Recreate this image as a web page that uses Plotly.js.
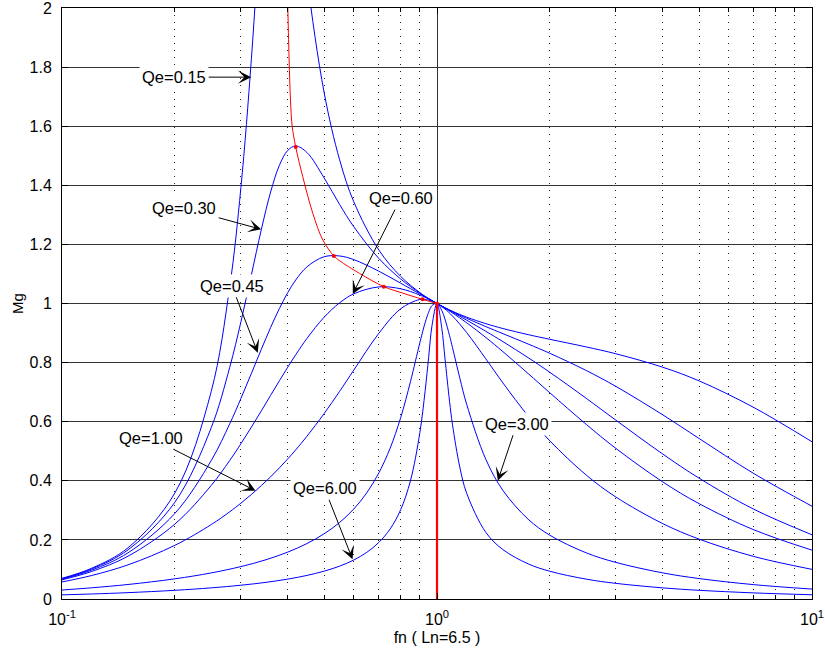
<!DOCTYPE html>
<html>
<head>
<meta charset="utf-8">
<script src="https://cdn.plot.ly/plotly-3.0.1.min.js"></script>
<style>
  html, body { margin: 0; padding: 0; background: #fff; }
  #chart { width: 825px; height: 655px; }
</style>
</head>
<body>
<div id="chart"></div>
<script>
// ---------- data ----------
const fnA = [0.1,0.12,0.15,0.2,0.25,0.28,0.3,0.32,0.34,0.36,0.38,0.4,0.42,0.45,0.5,0.55,0.6,0.7,0.8,0.9,0.95,1,1.05,1.1,1.2,1.35,1.5,1.75,2,2.5,3,4,5,7,10];
const mgQ015 = [0.0699,0.1041,0.1734,0.3588,0.7025,1.0556,1.3926,1.830,2.334,2.746,2.864,2.710,2.455,2.104,1.714,1.486,1.344,1.1807,1.0917,1.0369,1.0167,1,0.9858,0.9736,0.9538,0.9317,0.9152,0.8947,0.8788,0.8530,0.8298,0.7843,0.7381,0.6479,0.532];
const mgQ030 = [0.0688,0.1016,0.1664,0.3275,0.5797,0.7836,0.9379,1.0979,1.2497,1.3772,1.4678,1.5181,1.5331,1.511,1.4251,1.3350,1.2597,1.1522,1.0829,1.0352,1.0164,1,0.9855,0.9725,0.9499,0.9217,0.8978,0.8629,0.8314,0.7733,0.7194,0.6232,0.5431,0.4243,0.3139];
const mgQ045 = [0.0671,0.0978,0.1563,0.2897,0.4684,0.5926,0.6786,0.7637,0.8447,0.9187,0.9832,1.0369,1.0795,1.1241,1.1582,1.1608,1.1485,1.1091,1.0687,1.0324,1.0158,1,0.9850,0.9706,0.9435,0.9058,0.8708,0.8167,0.7670,0.6791,0.6050,0.4905,0.4088,0.3036,0.2173];
const mgQ060 = [0.0648,0.0932,0.1449,0.2536,0.3843,0.4686,0.5255,0.5818,0.6367,0.6891,0.7386,0.7846,0.8265,0.8818,0.9535,1.0023,1.0328,1.0562,1.0498,1.0286,1.0149,1,0.9843,0.9680,0.9347,0.8848,0.8368,0.7629,0.6977,0.5910,0.5095,0.3962,0.3226,0.2341,0.1653];
const mgQ100 = [0.0577,0.0795,0.1156,0.1817,0.2518,0.2950,0.3243,0.3538,0.3836,0.4135,0.4438,0.4742,0.5047,0.5508,0.6275,0.7028,0.7748,0.8994,0.9820,1.0134,1.0114,1,0.9814,0.9576,0.9015,0.8125,0.7308,0.6193,0.5350,0.4194,0.3450,0.2551,0.2026,0.1438,0.1003];

const fnB = [0.1,0.12,0.15,0.2,0.25,0.3,0.35,0.4,0.45,0.5,0.55,0.6,0.65,0.7,0.75,0.8,0.85,0.9,0.93,0.95,0.97,1,1.03,1.05,1.08,1.1,1.15,1.2,1.35,1.5,1.75,2,2.5,3,4,5,7,10];
const mgQ300 = [0.0304,0.0379,0.0491,0.0683,0.0883,0.1097,0.1329,0.1587,0.1876,0.2206,0.2591,0.3047,0.3597,0.4271,0.5105,0.6135,0.7363,0.8671,0.9356,0.9704,0.9930,1,0.9763,0.9472,0.8916,0.8506,0.7486,0.6585,0.4722,0.3669,0.2700,0.2157,0.1562,0.1238,0.0884,0.0692,0.0485,0.0336];
const mgQ600 = [0.0140,0.0170,0.0215,0.0294,0.0377,0.0466,0.0564,0.0673,0.0798,0.0942,0.1112,0.1320,0.1579,0.1916,0.2371,0.3021,0.4011,0.5628,0.7057,0.8182,0.9259,1,0.9157,0.8151,0.6695,0.5896,0.4468,0.3577,0.2253,0.1669,0.1190,0.0938,0.0672,0.0529,0.0377,0.0294,0.0206,0.0143];

// peak locus (red)
const locusFn = [0.3985,0.400,0.4033,0.4067,0.4107,0.4199,0.4386,0.4665,0.4961,0.5307,0.5495,0.6214,0.7212,0.811,0.9155,1.0];
const locusMg = [2.05,2.0,1.824,1.689,1.604,1.530,1.429,1.305,1.215,1.161,1.145,1.102,1.057,1.035,1.014,1.0];
const peakFn = [0.4199,0.5307,0.7212,0.9155,1.0];
const peakMg = [1.530,1.161,1.057,1.014,1.0];
const resFn = [1,1];
const resMg = [0,1];

// labels
const labels = ['Qe=0.15','Qe=0.30','Qe=0.45','Qe=0.60','Qe=1.00','Qe=3.00','Qe=6.00'];
const tipFn = [0.3195,0.3398,0.3327,0.5963,0.3281,1.453,0.5954];
const tipMg = [1.766,1.251,0.8335,1.032,0.3665,0.4003,0.1343];

const xMajor = [0.1,1,10];
const xMajorText = ['10<sup>-1</sup>','10<sup>0</sup>','10<sup>1</sup>'];
const xMinor = [0.2,0.3,0.4,0.5,0.6,0.7,0.8,0.9,2,3,4,5,6,7,8,9];
const yTicks = [0,0.2,0.4,0.6,0.8,1,1.2,1.4,1.6,1.8,2];
const yTickText = ['0','0.2','0.4','0.6','0.8','1','1.2','1.4','1.6','1.8','2'];

// ---------- styling ----------
const FONT = 'Liberation Sans, Arial, Helvetica, sans-serif';
const blue = {color:'#0000ff', width:1, shape:'spline', smoothing:1};
function curve(x, y){ return {x:x, y:y, type:'scatter', mode:'lines', line:blue, hoverinfo:'skip', showlegend:false}; }

const traces = [
  curve(fnA, mgQ015), curve(fnA, mgQ030), curve(fnA, mgQ045), curve(fnA, mgQ060), curve(fnA, mgQ100),
  curve(fnB, mgQ300), curve(fnB, mgQ600),
  {x:locusFn, y:locusMg, type:'scatter', mode:'lines', line:{color:'#ff0000', width:1, shape:'spline', smoothing:1}, hoverinfo:'skip', showlegend:false},
  {x:peakFn, y:peakMg, type:'scatter', mode:'markers', marker:{color:'#ff0000', size:4}, hoverinfo:'skip', showlegend:false},
  {x:resFn, y:resMg, type:'scatter', mode:'lines', line:{color:'#ff0000', width:2.2}, hoverinfo:'skip', showlegend:false}
];

const offsets = [[-77,0],[-77,-21],[-26,-67],[48,-96],[-105,-53],[19,-57],[-28,-71]];
const annotations = labels.map((t,i) => ({
  x: Math.log10(tipFn[i]), y: tipMg[i], xref:'x', yref:'y',
  ax: offsets[i][0], ay: offsets[i][1], axref:'pixel', ayref:'pixel',
  text: t, showarrow:true, arrowhead:3, arrowsize:2.2, arrowwidth:1, arrowcolor:'#000',
  bgcolor:'#ffffff', borderpad:2, font:{family:FONT, size:16.5, color:'#000'}
}));

const layout = {
  width:825, height:655,
  margin:{l:62, r:13, t:8, b:56},
  paper_bgcolor:'#fff', plot_bgcolor:'#fff',
  font:{family:FONT, color:'#000'},
  showlegend:false,
  xaxis:{
    type:'log', range:[-1,1],
    tickmode:'array', tickvals:xMajor, ticktext:xMajorText,
    ticks:'inside', ticklen:6, tickcolor:'#000', ticklabelstandoff:6, ticklabeloverflow:'allow',
    showline:true, linecolor:'#000', linewidth:1, mirror:'ticks',
    showgrid:true, gridcolor:'#333', gridwidth:1, zeroline:false,
    tickfont:{family:FONT, size:16, color:'#000'},
    minor:{tickmode:'array', tickvals:xMinor, ticks:'inside', ticklen:4, tickcolor:'#000',
           showgrid:true, gridcolor:'#222', gridwidth:1, griddash:'1px,6px'},
    title:{text:'fn ( Ln=6.5 )', font:{family:FONT, size:16, color:'#000'}, standoff:4}
  },
  yaxis:{
    range:[0,2], tickmode:'array', tickvals:yTicks, ticktext:yTickText,
    ticks:'inside', ticklen:6, tickcolor:'#000', ticklabelstandoff:6, ticklabeloverflow:'allow',
    showline:true, linecolor:'#000', linewidth:1, mirror:'ticks',
    showgrid:true, gridcolor:'#333', gridwidth:1, zeroline:false,
    tickfont:{family:FONT, size:16, color:'#000'},
    title:{text:'Mg', font:{family:FONT, size:15, color:'#000'}, standoff:2}
  },
  annotations: annotations
};

Plotly.newPlot('chart', traces, layout, {displayModeBar:false, staticPlot:true});
</script>
</body>
</html>
